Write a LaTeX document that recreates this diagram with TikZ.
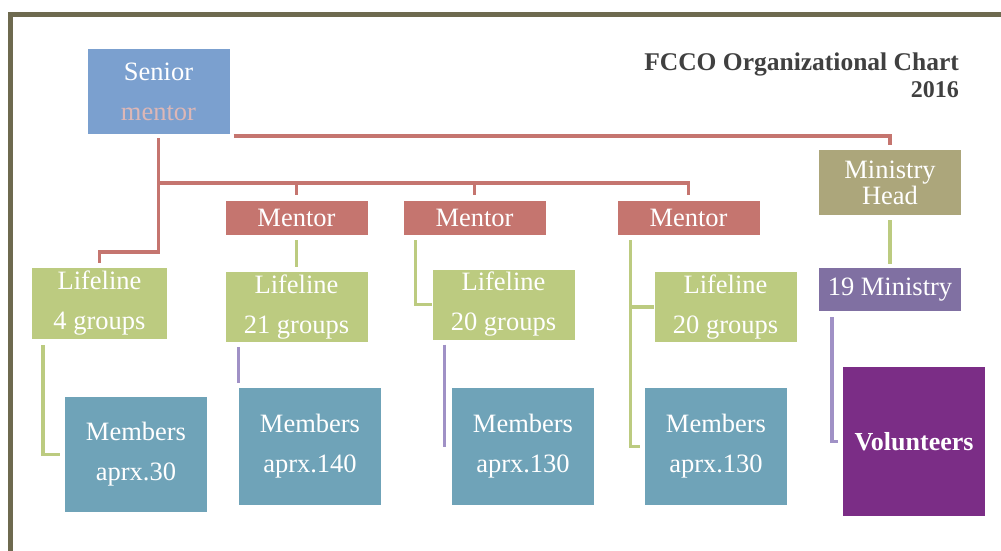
\documentclass[tikz,border=0pt]{standalone}
\usepackage{fontspec}
\setmainfont{Liberation Serif}
\usetikzlibrary{calc}

\definecolor{seniorblue}{HTML}{7BA0CF}
\definecolor{seniorpink}{HTML}{DDB7B6}
\definecolor{mentorred}{HTML}{C5756F}
\definecolor{lifegreen}{HTML}{BCCB80}
\definecolor{memberteal}{HTML}{6FA3B8}
\definecolor{headolive}{HTML}{ACA67B}
\definecolor{ministrypurple}{HTML}{8070A2}
\definecolor{linepurple}{HTML}{A091C6}
\definecolor{volpurple}{HTML}{7B2D86}
\definecolor{frameolive}{HTML}{6E6A4F}
\definecolor{titlegray}{HTML}{404040}

\begin{document}
\begin{tikzpicture}[
    x=1pt, y=-1pt,
    box/.style={inner sep=0pt, minimum width=142pt, align=center, text=white, font=\fontsize{26.5}{40}\selectfont},
    redline/.style={line width=3.5pt, mentorred},
    greenline/.style={line width=3.5pt, lifegreen},
    purpleline/.style={line width=3.5pt, linepurple}
]
    \useasboundingbox (0,0) rectangle (1001,550);
    \clip (0,0) rectangle (1001,550);

    % --- Frame ---
    \draw[line width=5pt, frameolive] (10,560) -- (10,14) -- (1010,14);

    % --- Title ---
    \node[anchor=base east, inner sep=0pt, text=titlegray, font=\bfseries\fontsize{25.5}{30}\selectfont] (title) at (959,70) {FCCO Organizational Chart};
    \node[anchor=base east, inner sep=0pt, text=titlegray, font=\bfseries\fontsize{24}{28}\selectfont] (year) at (959,97) {2016};

    % --- Top level ---
    \node[box, fill=seniorblue, minimum height=85pt] (senior) at (158.5,91.5) {Senior\\\textcolor{seniorpink}{mentor}};
    \node[box, fill=headolive, minimum height=65pt, font=\fontsize{26.5}{26}\selectfont] (mhead) at (890,182.5) {Ministry\\Head};

    % --- Mentors ---
    \node[box, fill=mentorred, minimum height=34pt] (mentor1) at (296.5,218) {Mentor};
    \node[box, fill=mentorred, minimum height=34pt] (mentor2) at (474.5,218) {Mentor};
    \node[box, fill=mentorred, minimum height=34pt] (mentor3) at (688.5,218) {Mentor};

    % --- Lifeline groups ---
    \node[box, fill=lifegreen, minimum width=135pt, minimum height=71pt] (life1) at (99.5,303.5) {Lifeline\\4 groups};
    \node[box, fill=lifegreen, minimum height=70pt] (life2) at (296.5,307) {Lifeline\\21 groups};
    \node[box, fill=lifegreen, minimum height=70pt] (life3) at (503.5,304.5) {Lifeline\\20 groups};
    \node[box, fill=lifegreen, minimum height=70pt] (life4) at (725.5,307) {Lifeline\\20 groups};
    \node[box, fill=ministrypurple, minimum height=43pt] (ministry) at (890,289.5) {19 Ministry};

    % --- Members ---
    \node[box, fill=memberteal, minimum height=115pt] (mem1) at (136,454.5) {Members\\aprx.30};
    \node[box, fill=memberteal, minimum height=117pt] (mem2) at (310,446.5) {Members\\aprx.140};
    \node[box, fill=memberteal, minimum height=117pt] (mem3) at (523,446.5) {Members\\aprx.130};
    \node[box, fill=memberteal, minimum height=117pt] (mem4) at (716,446.5) {Members\\aprx.130};
    \node[box, fill=volpurple, minimum height=149pt, font=\bfseries\fontsize{26}{40}\selectfont] (volunteers) at (914,441.5) {Volunteers};

    % --- Red links from the senior mentor ---
    \draw[redline] ($(senior.south east)+(4,2)$) -| ($(mhead.north)+(0,-5)$);
    \draw[redline] ($(senior.south)+(0,4)$) |- ($(life1.north)+(0,-16)$) -- ($(life1.north)+(0,-5)$);
    \coordinate (bar) at ($(senior.south)+(0,49)$);
    \draw[redline] (bar) -| ($(mentor3.north)+(0,-6)$);
    \foreach \m in {mentor1,mentor2}
        \draw[redline] (bar -| \m.north) -- ($(\m.north)+(0,-6)$);

    % --- Green links ---
    \draw[greenline] ($(mentor1.south)+(0,5)$) -- ($(life2.north)+(0,-5)$);
    \draw[greenline] ($(mentor2.south west)+(12,5)$) |- (life3.west);
    \coordinate (m3) at ($(mentor3.south west)+(13,5)$);
    \draw[greenline] (m3) |- ($(mem4.west)+(-5,0)$);
    \draw[greenline] (m3 |- life4.west) -- (life4.west);
    \draw[greenline] ($(life1.south west)+(11,6)$) |- ($(mem1.west)+(-5,0)$);
    \draw[greenline] ($(mhead.south)+(0,5)$) -- ($(ministry.north)+(0,-4)$);

    % --- Purple links ---
    \coordinate (p2) at ($(life2.south west)+(13,5)$);
    \draw[purpleline] (p2) -- ($(p2 |- mem2.north)+(0,-5)$);
    \coordinate (p3) at ($(life3.south west)+(12,5)$);
    \draw[purpleline] (p3) -- (p3 |- mem3.west);
    \draw[purpleline] ($(ministry.south west)+(13,6)$) |- ($(volunteers.west)+(-5,0)$);
\end{tikzpicture}
\end{document}
